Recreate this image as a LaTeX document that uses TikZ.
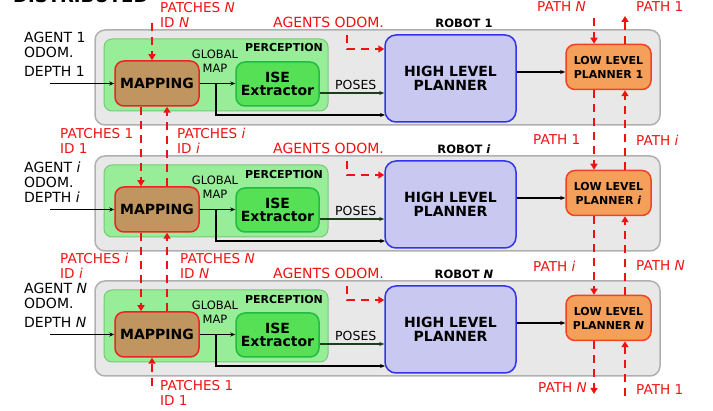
\documentclass[tikz,border=0pt]{standalone}
\usepackage{fontspec}
\setmainfont{DejaVu Sans}
\usetikzlibrary{arrows.meta,calc}
\definecolor{boxfill}{HTML}{E8E8E8}
\definecolor{boxdraw}{HTML}{B0B0B0}
\definecolor{percfill}{HTML}{98EE98}
\definecolor{percdraw}{HTML}{78C878}
\definecolor{mapfill}{HTML}{C09560}
\definecolor{mapdraw}{HTML}{EE2222}
\definecolor{isefill}{HTML}{55E055}
\definecolor{isedraw}{HTML}{22BB44}
\definecolor{hlpfill}{HTML}{C8C8F0}
\definecolor{hlpdraw}{HTML}{3333EE}
\definecolor{llpfill}{HTML}{F5A05A}
\definecolor{llpdraw}{HTML}{EE4422}
\definecolor{red1}{HTML}{F01212}
\definecolor{dkgreen}{HTML}{1E3C1E}
\begin{document}
\begin{tikzpicture}[x=1pt,y=-1pt,
 robotbox/.style={draw=boxdraw, fill=boxfill, line width=1.5pt, rounded corners=10pt, minimum width=565pt, minimum height=95pt, inner sep=0pt},
 percbox/.style={draw=percdraw, fill=percfill, line width=1pt, rounded corners=8pt, minimum width=224pt, minimum height=72pt, inner sep=0pt},
 mapbox/.style={draw=mapdraw, fill=mapfill, line width=1.5pt, rounded corners=9pt, minimum width=84pt, minimum height=45pt, font=\fontsize{14}{15}\selectfont\bfseries, inner sep=0pt},
 isebox/.style={draw=isedraw, fill=isefill, line width=1.5pt, rounded corners=9pt, minimum width=83pt, minimum height=44pt, align=center, font=\fontsize{14}{13}\selectfont\bfseries, inner sep=0pt},
 hlpbox/.style={draw=hlpdraw, fill=hlpfill, line width=1.5pt, rounded corners=11pt, minimum width=131pt, minimum height=87pt, align=center, font=\fontsize{14}{13.5}\selectfont\bfseries, inner sep=0pt},
 llpbox/.style={draw=llpdraw, fill=llpfill, line width=1.5pt, rounded corners=9pt, minimum width=85pt, minimum height=45pt, align=center, font=\fontsize{11}{14}\selectfont\bfseries, inner sep=0pt},
 lbl/.style={inner sep=0pt, font=\fontsize{14}{15}\selectfont, align=left},
 rlbl/.style={inner sep=0pt, font=\fontsize{13.6}{15}\selectfont, align=left, text=red1},
 smalltxt/.style={inner sep=0pt, font=\fontsize{11.5}{13.5}\selectfont, align=center},
 titletxt/.style={inner sep=0pt, font=\fontsize{11.5}{13}\selectfont\bfseries},
 arr/.style={line width=1.1pt, -{Stealth[length=5pt,width=4pt]}},
 rdash/.style={draw=red1, line width=2.8pt, dash pattern=on 8pt off 6pt},
 rarr/.style={rdash, -{Triangle[length=6pt,width=7pt]}},
]
\useasboundingbox (0,0) rectangle (713,411);
\clip (0,0) rectangle (713,411);

\node[anchor=base west, inner sep=0pt, font=\fontsize{18}{20}\selectfont\bfseries] (dist) at (13,3) {DISTRIBUTED};

\coordinate (xa) at (141,0);
\coordinate (xb) at (167,0);
\coordinate (xp) at (594,0);
\coordinate (xq) at (625,0);

\foreach \k/\dy/\t/\ag in {1/0/1/0, i/126/{\textit{i}}/4, N/251/{\textit{N}}/0}{
 \begin{scope}[yshift=-\dy pt]
  \node[robotbox] (rob\k) at (377.5,77.5) {};
  \node[percbox] (perc\k) at (216,75) {};
  \node[titletxt, font=\fontsize{11}{13}\selectfont\bfseries] (perct\k) at (284,48) {PERCEPTION};
  \node[mapbox] (map\k) at (157,83.5) {MAPPING};
  \node[isebox] (ise\k) at (277.5,84) {ISE\\Extractor};
  \node[hlpbox] (hlp\k) at (450.5,78.5) {HIGH LEVEL\\PLANNER};
  \node[llpbox] (llp\k) at (608.5,67) {LOW LEVEL\\PLANNER \t};
  \node[smalltxt] (gm\k) at (215,61) {GLOBAL\\MAP};
  \node[titletxt] (rt\k) at (464,23) {ROBOT \t};
  \node[lbl, anchor=west, font=\fontsize{12.5}{14}\selectfont] (pos\k) at (335,85) {POSES};
  \node[lbl, anchor=west] (ag\k) at (24,44.5+\ag) {AGENT \t\\ODOM.};
  \node[lbl, anchor=west] (dp\k) at (24,71) {DEPTH \t};
  \node[rlbl, anchor=west, font=\fontsize{14}{15}\selectfont] (ao\k) at (273,22) {AGENTS ODOM.};
  \coordinate (din\k) at (50,83.5);
  \coordinate (gs\k) at (216,83.5);
  \coordinate (hb\k) at (385,115);
  \coordinate (ps\k) at (0,93);
  \coordinate (hl\k) at (0,72);
  \coordinate (aos\k) at (347,35);
  \coordinate (aoy\k) at (0,49);
  \draw[arr] (din\k) -- (map\k.west);
  \draw[arr] (map\k.east) -- (ise\k.west |- map\k.east);
  \draw[arr] (gs\k) |- (hb\k);
  \draw[arr, draw=dkgreen] (ise\k.east |- ps\k) -- (hlp\k.west |- ps\k);
  \draw[arr] (hlp\k.east |- hl\k) -- (llp\k.west |- hl\k);
  \draw[rarr] (aos\k) |- (hlp\k.west |- aoy\k);
 \end{scope}
}

% patches exchange
\coordinate (pt) at (152,23);
\coordinate (pb) at (152,386);
\draw[rarr] (pt) -- (map1.north -| pt);
\draw[rarr] (map1.south -| xa) -- (mapi.north -| xa);
\draw[rarr] (mapi.north -| xb) -- (map1.south -| xb);
\draw[rarr] (mapi.south -| xa) -- (mapN.north -| xa);
\draw[rarr] (mapN.north -| xb) -- (mapi.south -| xb);
\draw[rarr] (pb) -- (mapN.south -| pb);

% path exchange
\coordinate (qt) at (594,18);
\coordinate (rtp) at (625,16);
\coordinate (qb) at (594,394);
\coordinate (rb) at (625,396);
\draw[rarr] (qt) -- (llp1.north -| qt);
\draw[rarr] (llp1.north -| rtp) -- (rtp);
\draw[rarr] (llp1.south -| xp) -- (llpi.north -| xp);
\draw[rarr] (llpi.north -| xq) -- (llp1.south -| xq);
\draw[rarr] (llpi.south -| xp) -- (llpN.north -| xp);
\draw[rarr] (llpN.north -| xq) -- (llpi.south -| xq);
\draw[rarr] (llpN.south -| qb) -- (qb);
\draw[rarr] (rb) -- (llpN.south -| rb);

% red labels
\node[rlbl, anchor=west] (pN) at (160,15) {PATCHES \textit{N}\\ID \textit{N}};
\node[rlbl, anchor=west] (p1a) at (60,140.5) {PATCHES 1\\ID 1};
\node[rlbl, anchor=west] (pia) at (177,140.5) {PATCHES \textit{i}\\ID \textit{i}};
\node[rlbl, anchor=west] (pib) at (60,265.5) {PATCHES \textit{i}\\ID \textit{i}};
\node[rlbl, anchor=west] (pNb) at (180,265.5) {PATCHES \textit{N}\\ID \textit{N}};
\node[rlbl, anchor=west] (p1b) at (160,392.5) {PATCHES 1\\ID 1};
\node[rlbl, anchor=west] (pth1) at (537,7) {PATH \textit{N}};
\node[rlbl, anchor=west] (pth2) at (636,7) {PATH 1};
\node[rlbl, anchor=west] (pth3) at (533,140) {PATH 1};
\node[rlbl, anchor=west] (pth4) at (636,140) {PATH \textit{i}};
\node[rlbl, anchor=west] (pth5) at (533,266) {PATH \textit{i}};
\node[rlbl, anchor=west] (pth6) at (636,266) {PATH \textit{N}};
\node[rlbl, anchor=west] (pth7) at (538,388) {PATH \textit{N}};
\node[rlbl, anchor=west] (pth8) at (636,390) {PATH 1};
\end{tikzpicture}
\end{document}
